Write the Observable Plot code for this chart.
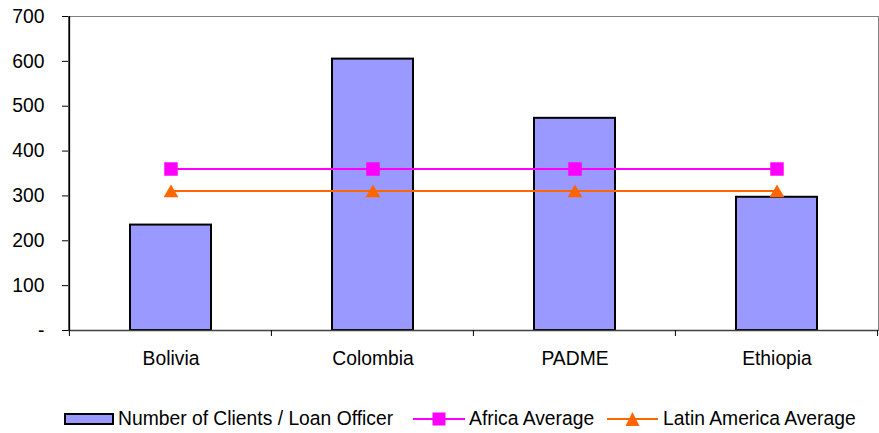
<!DOCTYPE html>
<html>
<head>
<meta charset="utf-8">
<script src="https://cdn.jsdelivr.net/npm/d3@7"></script>
<script src="https://cdn.jsdelivr.net/npm/@observablehq/plot@0.6"></script>
<style>
  body { margin: 0; background: #fff; font-family: "Liberation Sans", Arial, sans-serif; }
  #legend { display: flex; align-items: center; height: 38px; padding-left: 64px; font-size: 19.3px; color: #000; white-space: nowrap; }
  #legend svg { display: block; }
</style>
</head>
<body>
<div id="chart"></div>
<div id="legend"></div>
<script>
// Clients per loan officer by institution, with regional benchmarks
const countries = ["Bolivia", "Colombia", "PADME", "Ethiopia"];
const clientsPerOfficer = [235, 605, 473, 297];
const africaAverage = [360, 360, 360, 360];
const latinAmericaAverage = [311, 311, 311, 311];
const yTicks = [0, 100, 200, 300, 400, 500, 600, 700];
const seriesNames = ["Number of Clients / Loan Officer", "Africa Average", "Latin America Average"];
const seriesColors = ["#9999FF", "#FF00FF", "#FF6600"];

const rows = countries.map((c, i) => ({
  country: c,
  clients: clientsPerOfficer[i],
  africa: africaAverage[i],
  latam: latinAmericaAverage[i]
}));

const plot = Plot.plot({
  width: 879,
  height: 400,
  marginTop: 16,
  marginBottom: 70,
  marginLeft: 68,
  marginRight: 1,
  style: { fontFamily: "'Liberation Sans', Arial, sans-serif", fontSize: "19.3px", color: "#000", background: "#fff", overflow: "visible" },
  x: { domain: countries, paddingInner: 0.6, paddingOuter: 0.3, label: null },
  y: { domain: [0, 700], label: null },
  marks: [
    Plot.frame({ stroke: "#808080" }),
    Plot.barY(rows, { x: "country", y: "clients", fill: seriesColors[0], stroke: "#000", strokeWidth: 2 }),
    Plot.lineY(rows, { x: "country", y: "latam", stroke: seriesColors[2], strokeWidth: 2 }),
    Plot.dot(rows, { x: "country", y: "latam", symbol: "triangle", r: 5.5, fill: seriesColors[2], dy: 2 }),
    Plot.lineY(rows, { x: "country", y: "africa", stroke: seriesColors[1], strokeWidth: 2 }),
    Plot.dot(rows, { x: "country", y: "africa", symbol: "square", r: 7.6, fill: seriesColors[1] }),
    Plot.axisY({ ticks: yTicks, tickFormat: d => d === 0 ? "-" : d, tickSize: 6, tickPadding: 18, stroke: "#000", fill: "#000" }),
    Plot.axisX({ tickSize: 0, tickPadding: 21, label: null, fill: "#000" }),
    Plot.ruleY([0], { stroke: "#404040", strokeWidth: 1.5 })
  ]
});
document.getElementById("chart").appendChild(plot);

// Left axis line and category-boundary ticks on the bottom axis
const xs = plot.scale("x");
const ys = plot.scale("y");
const half = xs.step * xs.paddingInner / 2;
const bounds = countries.map(c => xs.apply(c) - half);
bounds.push(xs.apply(countries[countries.length - 1]) + xs.bandwidth + half);
const y0 = ys.apply(0);
const yTop = ys.apply(700);
const g = d3.select(plot).append("g").attr("stroke", "#000").attr("stroke-width", 1);
g.selectAll("line.b").data(bounds).join("line")
  .attr("x1", d => d).attr("x2", d => d)
  .attr("y1", y0).attr("y2", y0 + 6);
g.append("line")
  .attr("x1", bounds[0]).attr("x2", bounds[0])
  .attr("y1", yTop).attr("y2", y0)
  .attr("stroke-width", 1.5);

// Legend
const legend = d3.select("#legend");
function addText(t, ml) {
  legend.append("span").style("margin-left", ml + "px").text(t);
}
// bar swatch
const s0 = legend.append("svg").attr("width", 50).attr("height", 12);
s0.append("rect").attr("x", 1).attr("y", 1).attr("width", 48).attr("height", 10)
  .attr("fill", seriesColors[0]).attr("stroke", "#000").attr("stroke-width", 2);
addText(seriesNames[0], 4);
// Africa swatch
const s1 = legend.append("svg").attr("width", 52).attr("height", 14).style("margin-left", "20px");
s1.append("line").attr("x1", 0).attr("x2", 52).attr("y1", 7).attr("y2", 7)
  .attr("stroke", seriesColors[1]).attr("stroke-width", 2);
s1.append("rect").attr("x", 19.5).attr("y", 0.5).attr("width", 13).attr("height", 13).attr("fill", seriesColors[1]);
addText(seriesNames[1], 4);
// Latin America swatch
const s2 = legend.append("svg").attr("width", 51).attr("height", 14).style("margin-left", "13px");
s2.append("line").attr("x1", 0).attr("x2", 51).attr("y1", 7).attr("y2", 7)
  .attr("stroke", seriesColors[2]).attr("stroke-width", 2);
s2.append("path").attr("d", "M25.5,0L32.5,14L18.5,14Z").attr("fill", seriesColors[2]);
addText(seriesNames[2], 5);
</script>
</body>
</html>
